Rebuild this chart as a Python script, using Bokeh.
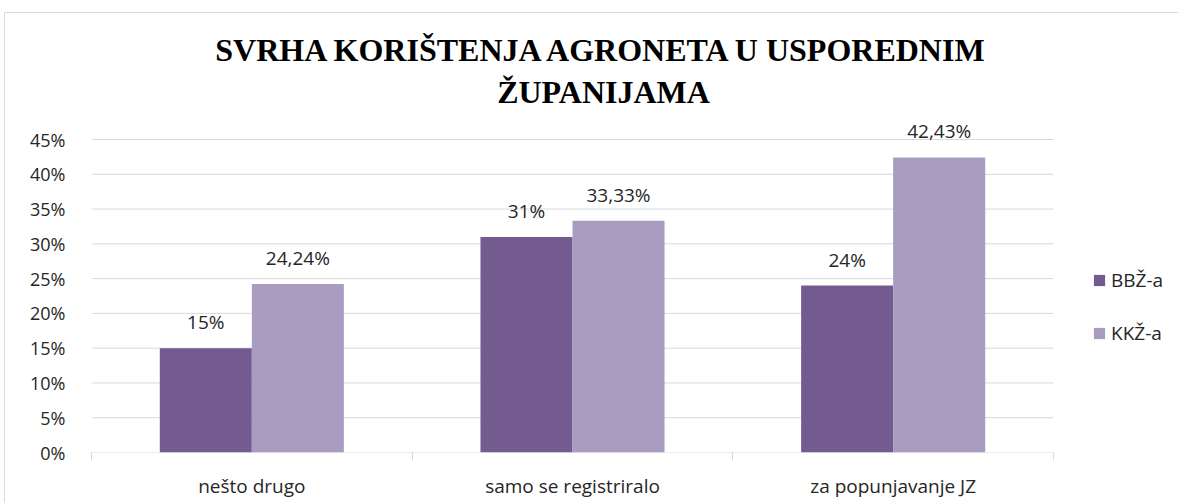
from bokeh.plotting import figure
from bokeh.models import (Range1d, FixedTicker, ColumnDataSource, Legend, LegendItem,
                          NumeralTickFormatter)
from bokeh.core.properties import value
from bokeh.embed import file_html
from bokeh.resources import INLINE

categories = ["nešto drugo", "samo se registriralo", "za popunjavanje JZ"]
series_names = ["BBŽ-a", "KKŽ-a"]
bbz = [0.15, 0.31, 0.24]
kkz = [0.2424, 0.3333, 0.4243]
bbz_labels = ["15%", "31%", "24%"]
kkz_labels = ["24,24%", "33,33%", "42,43%"]
y_ticks = [0, 0.05, 0.10, 0.15, 0.20, 0.25, 0.30, 0.35, 0.40, 0.45]
title_lines = ["SVRHA KORIŠTENJA AGRONETA U USPOREDNIM", "ŽUPANIJAMA"]

DARK = "#735A8F"
LIGHT = "#A99CC0"
GRID = "#D9D9D9"
TEXT = "#262626"
LABEL_FONT = "Open Sans"
LABEL_SIZE = "19px"

# layout (pixels)
W, H = 1174, 491
LEFT, BOTTOM = 86, 52
CAT_PX = 320.67          # width of one category slot
PX_PER_UNIT_Y = 313.0 / 0.45
frame_w = W - LEFT
frame_h = H - BOTTOM
x_end = frame_w / CAT_PX
y_end = frame_h / PX_PER_UNIT_Y

def px_to_x(px):  # pixels from frame left
    return px / CAT_PX

def px_to_y(px_from_top):
    return (frame_h - px_from_top) / PX_PER_UNIT_Y

p = figure(width=W, height=H, output_backend="svg", toolbar_location=None,
           x_range=Range1d(0, x_end), y_range=Range1d(0, y_end),
           min_border_left=LEFT, min_border_right=0, min_border_top=0, min_border_bottom=BOTTOM,
           styles={"border-left": "1px solid #D9D9D9", "border-top": "1px solid #D9D9D9",
                   "margin-left": "4px", "margin-top": "12px"})
p.outline_line_color = None
p.background_fill_color = "white"
p.border_fill_color = "white"

# gridlines (only over category area)
n = len(categories)
p.segment(x0=[0] * len(y_ticks), x1=[n] * len(y_ticks), y0=y_ticks, y1=y_ticks,
          line_color=GRID, line_width=1)

# title
title_x = px_to_x(598 - LEFT)
p.text(x=[title_x, title_x], y=[px_to_y(36), px_to_y(78)], text=title_lines,
       text_align="center", text_baseline="middle", text_font=value("Liberation Serif"),
       text_font_style="bold", text_font_size="32px", text_color="black")

offset = 0.1435
bw = 0.287
xs = [i + 0.5 for i in range(n)]
src1 = ColumnDataSource(dict(x=[x - offset for x in xs], top=bbz, lab=bbz_labels))
src2 = ColumnDataSource(dict(x=[x + offset for x in xs], top=kkz, lab=kkz_labels))

r1 = p.vbar(x="x", top="top", width=bw, source=src1, fill_color=DARK, line_color=None)
r2 = p.vbar(x="x", top="top", width=bw, source=src2, fill_color=LIGHT, line_color=None)

for src in (src1, src2):
    p.text(x="x", y="top", text="lab", source=src, text_align="center", text_baseline="alphabetic",
           y_offset=-26, text_font=value(LABEL_FONT), text_font_size=LABEL_SIZE, text_color=TEXT)

# axes
p.xaxis.ticker = FixedTicker(ticks=xs, minor_ticks=list(range(n + 1)))
p.xaxis.major_label_overrides = {x: c for x, c in zip(xs, categories)}
p.xaxis.major_tick_line_color = None
p.xaxis.minor_tick_in = 0
p.xaxis.minor_tick_out = 8
p.xaxis.minor_tick_line_color = GRID
p.xaxis.axis_line_color = None
p.xaxis.major_label_text_font = LABEL_FONT
p.xaxis.major_label_text_font_size = LABEL_SIZE
p.xaxis.major_label_text_color = TEXT
p.xaxis.major_label_standoff = 12

p.yaxis.ticker = FixedTicker(ticks=y_ticks)
p.yaxis.formatter = NumeralTickFormatter(format="0%")
p.yaxis.axis_line_color = None
p.yaxis.major_tick_line_color = None
p.yaxis.minor_tick_line_color = None
p.yaxis.major_label_text_font = LABEL_FONT
p.yaxis.major_label_text_font_size = "18px"
p.yaxis.major_label_text_color = TEXT
p.yaxis.major_label_standoff = 20

p.xgrid.grid_line_color = None
p.ygrid.grid_line_color = None

legend = Legend(items=[LegendItem(label=series_names[0], renderers=[r1]),
                       LegendItem(label=series_names[1], renderers=[r2])],
                location=(1001, 106), orientation="vertical")
legend.padding = 0
legend.margin = 0
legend.spacing = 27
legend.border_line_color = None
legend.background_fill_alpha = 0
legend.glyph_width = 14
legend.glyph_height = 14
legend.label_height = 22
legend.label_standoff = 5
legend.label_text_font = LABEL_FONT
legend.label_text_font_size = LABEL_SIZE
legend.label_text_color = TEXT
p.add_layout(legend, "center")

open("out.html", "w").write(file_html(p, INLINE))
